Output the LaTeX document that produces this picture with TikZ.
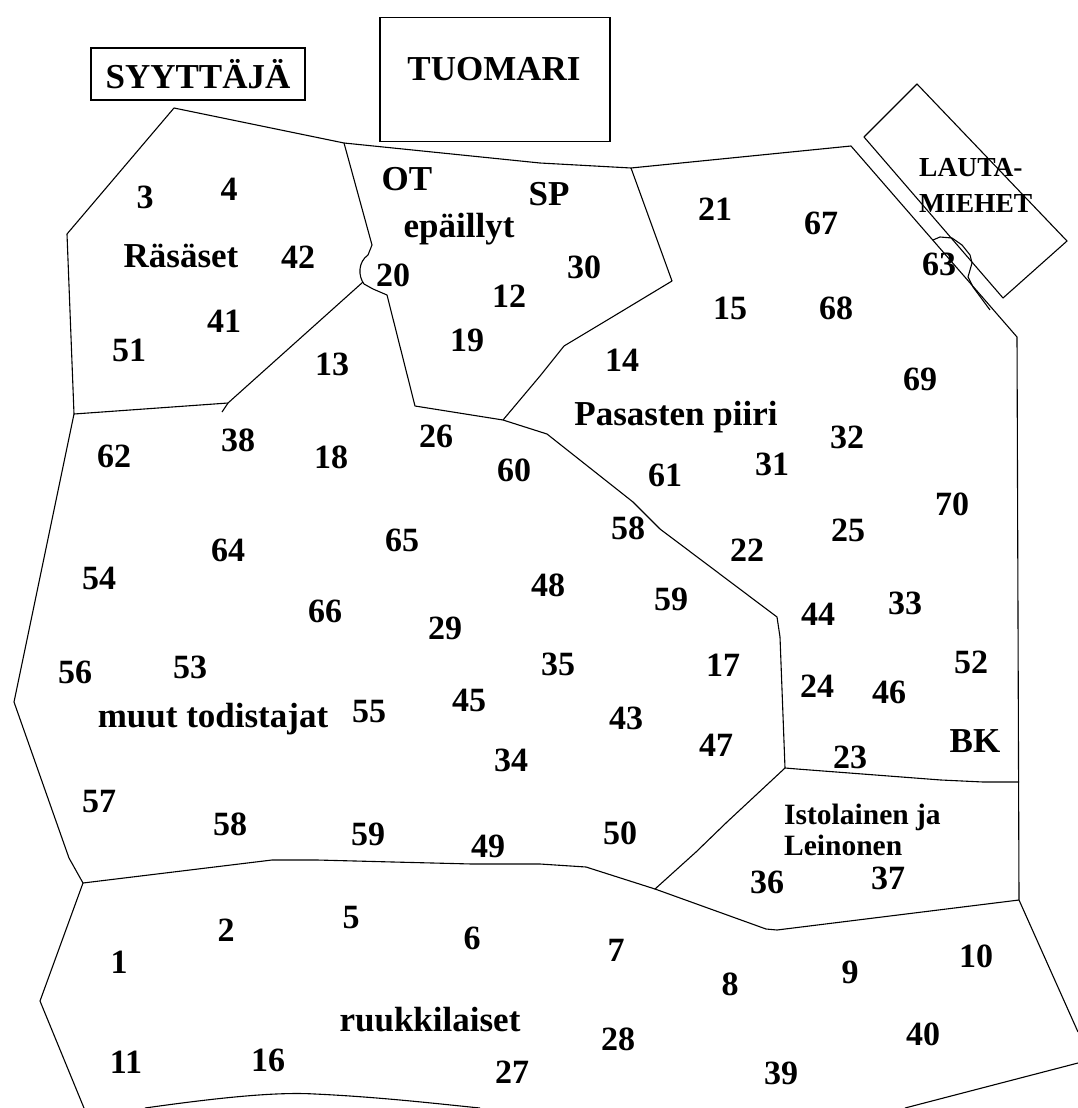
\documentclass[tikz,border=0pt]{standalone}
\usepackage{fontspec}
\setmainfont{Liberation Serif}
\usetikzlibrary{positioning}

\begin{document}
\begin{tikzpicture}[
    x=1pt, y=-1pt,
    num/.style={font=\fontsize{34}{36}\selectfont\bfseries, inner sep=0pt},
    lbl/.style={font=\fontsize{35}{38}\selectfont\bfseries, inner sep=0pt, anchor=base},
    small/.style={font=\fontsize{29.5}{31}\selectfont\bfseries, inner sep=0pt, align=left, anchor=north west},
    titlebox/.style={draw, line width=1.1pt, inner sep=0pt},
    border/.style={line width=1.1pt, line join=round}
]
    \useasboundingbox[fill=white] (0,0) rectangle (1078,1108);

    % Syyttaja ja tuomari
    \node[titlebox, minimum width=214pt, minimum height=52pt] (syyttaja) at (198,74) {\fontsize{35}{38}\selectfont\bfseries SYYTTÄJÄ};
    \node[titlebox, minimum width=230pt, minimum height=124pt, anchor=north] (tuomari) at (495,17) {};
    \node[lbl] (tuomariteksti) at (494,81) {TUOMARI};

    % Lautamiehet (vino laatikko)
    \draw[border] (917,84) -- (1067,241) -- (1003,298) -- (864,137) -- cycle;
    \node[small, font=\fontsize{27.5}{36}\selectfont\bfseries] (lautamiehet) at (919,158) {LAUTA-\\MIEHET};

    % Alueiden rajat
    \draw[border] (67,234) -- (174,108) -- (344,143) -- (540,163) -- (631,168) -- (851,146) -- (1017,337) -- (1019,900) -- (1078,1032);
    \draw[border] (67,234) -- (74,414) -- (228,403) -- (363,282);
    \draw[border] (228,403) -- (222,412);
    \draw[border] (344,143) -- (372,245) -- (368,255) .. controls (358,262) and (358,276) .. (364,284) -- (373,289) -- (387,295) -- (415,406)
        -- (503,420) -- (547,434) -- (633,502) -- (660,529) -- (777,617) -- (780,637) -- (785,768);
    \draw[border] (631,168) -- (672,281) -- (609,319) -- (564,346) -- (540,376) -- (503,420);
    \draw[border] (74,414) -- (14,702) -- (69,858) -- (83,883) -- (40,1001) -- (84,1108);
    \draw[border] (83,883) -- (272,860) -- (317,860) -- (393,862) -- (472,864) -- (540,864) -- (586,867) -- (655,889);
    \draw[border] (785,768) -- (797,769) -- (941,780) -- (983,782) -- (1019,782);
    \draw[border] (785,768) -- (727,822) -- (696,852) -- (655,889) -- (766,929) -- (777,930) -- (1019,900);
    \draw[border] (145,1108) .. controls (230,1096) and (280,1092) .. (315,1094) .. controls (380,1097) and (440,1104) .. (480,1108);
    \draw[border] (905,1108) -- (1078,1063);
    \draw[border] (933,240) -- (940,237) -- (952,238) -- (962,245) -- (970,255) -- (972,263) -- (968,277) -- (973,287) -- (990,310);

    % Ryhmien nimet
    \node[lbl] (rasaset) at (181,267) {Räsäset};
    \node[lbl] (ot) at (407,190) {OT};
    \node[lbl] (epaillyt) at (459,237) {epäillyt};
    \node[lbl] (sp) at (549,205) {SP};
    \node[lbl] (pasasten) at (676,425) {Pasasten piiri};
    \node[lbl] (muut) at (213,727) {muut todistajat};
    \node[lbl] (ruukki) at (430,1031) {ruukkilaiset};
    \node[num, font=\fontsize{35}{38}\selectfont\bfseries] (bk) at (975,741) {BK};
    \node[small] (istolainen) at (784,804) {Istolainen ja\\Leinonen};

    % Numerot
    \node[num] (n1) at (119,962) {1};
    \node[num] (n2) at (226,930) {2};
    \node[num] (n3) at (145,197) {3};
    \node[num] (n4) at (229,189) {4};
    \node[num] (n5) at (351,918) {5};
    \node[num] (n6) at (472,938) {6};
    \node[num] (n7) at (616,950) {7};
    \node[num] (n8) at (730,984) {8};
    \node[num] (n9) at (850,972) {9};
    \node[num] (n10) at (976,956) {10};
    \node[num] (n11) at (126,1062) {11};
    \node[num] (n12) at (509,296) {12};
    \node[num] (n13) at (332,364) {13};
    \node[num] (n14) at (622,360) {14};
    \node[num] (n15) at (730,308) {15};
    \node[num] (n16) at (268,1060) {16};
    \node[num] (n17) at (723,665) {17};
    \node[num] (n18) at (331,457) {18};
    \node[num] (n19) at (467,340) {19};
    \node[num] (n20) at (393,275) {20};
    \node[num] (n21) at (715,209) {21};
    \node[num] (n22) at (747,550) {22};
    \node[num] (n23) at (850,757) {23};
    \node[num] (n24) at (817,686) {24};
    \node[num] (n25) at (848,530) {25};
    \node[num] (n26) at (436,436) {26};
    \node[num] (n27) at (512,1072) {27};
    \node[num] (n28) at (618,1039) {28};
    \node[num] (n29) at (445,628) {29};
    \node[num] (n30) at (584,267) {30};
    \node[num] (n31) at (772,464) {31};
    \node[num] (n32) at (847,437) {32};
    \node[num] (n33) at (905,603) {33};
    \node[num] (n34) at (511,760) {34};
    \node[num] (n35) at (558,664) {35};
    \node[num] (n36) at (767,882) {36};
    \node[num] (n37) at (888,878) {37};
    \node[num] (n38) at (238,440) {38};
    \node[num] (n39) at (781,1073) {39};
    \node[num] (n40) at (923,1034) {40};
    \node[num] (n41) at (224,321) {41};
    \node[num] (n42) at (298,257) {42};
    \node[num] (n43) at (626,718) {43};
    \node[num] (n44) at (818,614) {44};
    \node[num] (n45) at (469,700) {45};
    \node[num] (n46) at (889,692) {46};
    \node[num] (n47) at (716,745) {47};
    \node[num] (n48) at (548,585) {48};
    \node[num] (n49) at (488,846) {49};
    \node[num] (n50) at (620,833) {50};
    \node[num] (n51) at (129,350) {51};
    \node[num] (n52) at (971,662) {52};
    \node[num] (n53) at (190,667) {53};
    \node[num] (n54) at (99,578) {54};
    \node[num] (n55) at (369,712) {55};
    \node[num] (n56) at (75,672) {56};
    \node[num] (n57) at (99,802) {57};
    \node[num] (n58a) at (230,824) {58};
    \node[num] (n58b) at (628,528) {58};
    \node[num] (n59a) at (368,834) {59};
    \node[num] (n59b) at (671,599) {59};
    \node[num] (n60) at (514,470) {60};
    \node[num] (n61) at (665,475) {61};
    \node[num] (n62) at (114,456) {62};
    \node[num] (n63) at (939,264) {63};
    \node[num] (n64) at (228,550) {64};
    \node[num] (n65) at (402,540) {65};
    \node[num] (n66) at (325,611) {66};
    \node[num] (n67) at (821,223) {67};
    \node[num] (n68) at (836,308) {68};
    \node[num] (n69) at (920,379) {69};
    \node[num] (n70) at (952,504) {70};

\end{tikzpicture}
\end{document}
